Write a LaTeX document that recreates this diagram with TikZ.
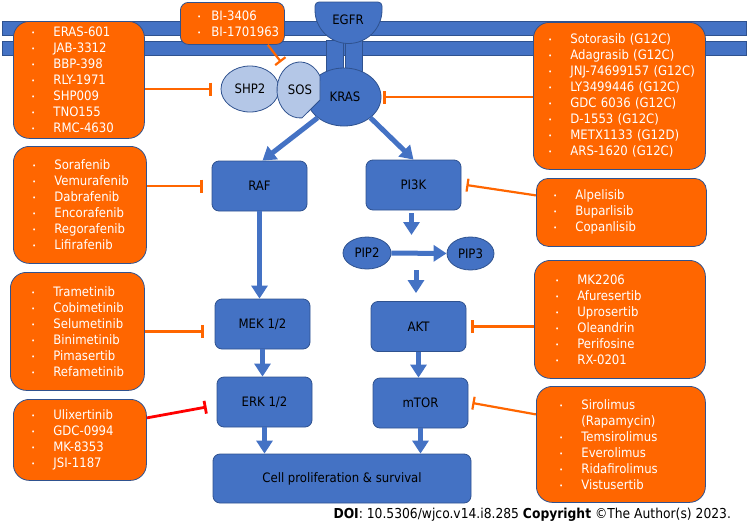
\documentclass[tikz,border=0pt]{standalone}
\usepackage{fontspec}
\setmainfont{DejaVu Sans Condensed}
\usetikzlibrary{arrows.meta}
\usetikzlibrary{positioning}
\usetikzlibrary{shapes.geometric}

\definecolor{pathblue}{HTML}{4472C4}
\definecolor{edgeblue}{HTML}{2F528F}
\definecolor{paleblue}{HTML}{B4C7E7}
\definecolor{drugorange}{HTML}{FF6600}
\definecolor{blockred}{HTML}{FF0000}

% no line breaks at hyphens inside the lists
\hyphenpenalty=10000
\exhyphenpenalty=10000

% bullet in front of a drug name
\newcommand{\itm}[1][23pt]{\makebox[#1][l]{\hspace{1pt}\raisebox{1pt}{\scriptsize\textbullet}}}

\tikzset{
  % cell membrane and receptor parts
  membrane/.style = {
    fill = pathblue,
    draw = edgeblue,
    line width = 0.4pt
  },
  % pathway protein
  path node/.style = {
    draw = edgeblue,
    fill = pathblue,
    rounded corners = 7pt,
    line width = 0.8pt,
    minimum width = 95pt,
    minimum height = 50pt,
    font = \fontsize{13pt}{16pt}\selectfont
  },
  % round molecule
  mol node/.style = {
    draw = edgeblue,
    ellipse,
    line width = 0.8pt,
    inner sep = 0pt,
    font = \fontsize{13pt}{16pt}\selectfont
  },
  % list of inhibitors
  drug box/.style = {
    draw = edgeblue,
    fill = drugorange,
    rounded corners = 16pt,
    line width = 0.8pt,
    anchor = north west,
    align = left,
    text = white,
    inner xsep = 17pt,
    inner ysep = 0pt,
    font = \fontsize{13pt}{16pt}\selectfont
  }
}
\tikzset{
  % activation
  act/.style = {
    draw = pathblue,
    line width = 5pt,
    -{Triangle[width=16pt, length=13pt]}
  },
  % inhibition
  inhib/.style = {
    draw = drugorange,
    line width = 2.2pt,
    -{Bar[width=13pt]}
  }
}

\begin{document}
\begin{tikzpicture}[x=1pt, y=-1pt]
  \useasboundingbox (0,0) rectangle (748,523);

  % membrane
  \filldraw[membrane] (2,21) rectangle (746,35);
  \filldraw[membrane] (2,41) rectangle (746,55);

  % receptor
  \filldraw[membrane] (326,40) rectangle (343,78);
  \filldraw[membrane] (345,40) rectangle (362,78);
  \filldraw[membrane, line width=0.8pt] (315,10) [rounded corners=4pt] -- (315,2)
    -- (382,2) [sharp corners] -- (382,10)
    arc[start angle=0, end angle=180, radius=33.5] -- cycle;
  \node (egfr) at (348,20) [font=\fontsize{13pt}{16pt}\selectfont] {EGFR};

  % drug lists
  \node[drug box, rounded corners=8pt, inner xsep=10pt, text width=84pt,
    minimum height=42pt] (bi) at (180,2)
    {\hspace*{6pt}\itm[15pt]BI-3406\\\hspace*{6pt}\itm[15pt]BI-1701963};

  \node[drug box, text width=97pt, minimum height=117pt] (eras) at (13,21)
    {\itm ERAS-601\\\itm JAB-3312\\\itm BBP-398\\\itm RLY-1971\\
     \itm SHP009\\\itm TNO155\\\itm RMC-4630};

  \node[drug box, inner xsep=14pt, text width=144pt, minimum height=147pt]
    (ras-drugs) at (533,22)
    {\itm Sotorasib~(G12C)\\\itm Adagrasib~(G12C)\\\itm JNJ-74699157~(G12C)\\
     \itm LY3499446~(G12C)\\\itm GDC~6036~(G12C)\\\itm D-1553~(G12C)\\
     \itm METX1133~(G12D)\\\itm ARS-1620~(G12C)};

  \node[drug box, inner xsep=18pt, text width=97pt, minimum height=117pt]
    (raf-drugs) at (13,146)
    {\itm Sorafenib\\\itm Vemurafenib\\\itm Dabrafenib\\\itm Encorafenib\\
     \itm Regorafenib\\\itm Lifirafenib};

  \node[drug box, rounded corners=12pt, inner xsep=16pt, text width=138pt,
    minimum height=68pt] (pi3k-drugs) at (536,178)
    {\itm Alpelisib\\\itm Buparlisib\\\itm Copanlisib};

  \node[drug box, inner xsep=20pt, text width=94pt, minimum height=118pt]
    (mek-drugs) at (10,272)
    {\itm Trametinib\\\itm Cobimetinib\\\itm Selumetinib\\\itm Binimetinib\\
     \itm Pimasertib\\\itm Refametinib};

  \node[drug box, text width=99pt, minimum height=81pt] (erk-drugs) at (13,399)
    {\itm Ulixertinib\\\itm GDC-0994\\\itm MK-8353\\\itm JSI-1187};

  \node[drug box, inner xsep=20pt, text width=131pt, minimum height=118pt]
    (akt-drugs) at (534,260)
    {\itm MK2206\\\itm Afuresertib\\\itm Uprosertib\\\itm Oleandrin\\
     \itm Perifosine\\\itm RX-0201};

  \node[drug box, inner xsep=22pt, text width=125pt, minimum height=116pt]
    (mtor-drugs) at (536,386)
    {\itm Sirolimus\\\hspace*{23pt}(Rapamycin)\\\itm Temsirolimus\\
     \itm Everolimus\\\itm Ridafirolimus\\\itm Vistusertib};

  % adaptor complex
  \node[mol node, fill=pathblue, minimum width=74pt, minimum height=58pt]
    (kras) at (344,97) {\hspace*{2pt}KRAS};
  \node[mol node, fill=paleblue, minimum width=58pt, minimum height=46pt]
    (shp2) at (250,89) {SHP2};
  \filldraw[fill=paleblue, draw=edgeblue, line width=0.8pt] (300,90)
    ++(85:23 and 28) arc[start angle=85, end angle=330.4,
    x radius=23, y radius=28] -- (320,100) -- cycle;
  \node (sos) at (300,90) [font=\fontsize{13pt}{16pt}\selectfont] {SOS};
  \coordinate (sos-top) at (281,62);

  % pathway
  \node[path node] (raf) at (259.5,186) {RAF};
  \node[path node] (mek) at (262.5,324) {MEK 1/2};
  \node[path node] (erk) at (264.5,402) {ERK 1/2};
  \node[path node] (pi3k) at (413.5,185) {PI3K};
  \node[mol node, fill=pathblue, minimum width=48pt, minimum height=32pt]
    (pip2) at (367,253) {PIP2};
  \node[mol node, fill=pathblue, minimum width=47pt, minimum height=33pt]
    (pip3) at (470.5,253.5) {PIP3};
  \coordinate (pip-step) at (414,253);
  \node[path node] (akt) at (418.5,326.5) {AKT};
  \node[path node] (mtor) at (420.5,403) {mTOR};
  \node[path node, minimum width=258pt, minimum height=49pt]
    (cell) at (342,478.5) {Cell proliferation \& survival};

  % activation arrows
  \draw[act] (kras.south west) -- ([xshift=3pt]raf.north);
  \draw[act] (kras.south east) -- (pi3k.north);
  \draw[act] (raf.south) -- (raf.south |- mek.north);
  \draw[act] (mek.south) -- (mek.south |- erk.north);
  \draw[act] (erk.south) -- (erk.south |- cell.north);
  \draw[act, shorten <=3pt, shorten >=18pt] ([xshift=-2pt]pi3k.south)
    -- ([xshift=-2pt]pi3k.south |- pip-step);
  \draw[act] (pip2) -- (pip3);
  \draw[act, shorten <=17pt, shorten >=8pt] ([xshift=2pt]pip-step)
    -- ([xshift=2pt]pip-step |- akt.north);
  \draw[act] (akt.south) -- (akt.south |- mtor.north);
  \draw[act] (mtor.south) -- (mtor.south |- cell.north);

  % inhibition
  \draw[inhib, shorten >=9pt] (eras.east |- shp2.west) -- (shp2.west);
  \draw[inhib] ([xshift=-17pt]bi.south east) -- (sos-top);
  \draw[inhib, shorten >=2pt] (ras-drugs.west |- kras.east) -- (kras.east);
  \draw[inhib, shorten >=9pt] (raf-drugs.east |- raf.west) -- (raf.west);
  \draw[inhib] ([yshift=17pt]pi3k-drugs.west) -- ([xshift=5pt]pi3k.east);
  \draw[inhib, shorten >=11pt] (mek-drugs.east) -- (mek-drugs.east -| mek.west);
  \draw[inhib, draw=blockred, line width=2.8pt] ([yshift=22pt]erk-drugs.east)
    -- ([xshift=-10pt, yshift=-5pt]erk.west);
  \draw[inhib] (akt-drugs.west |- akt.east) -- ([xshift=5pt]akt.east);
  \draw[inhib] ([yshift=30pt]mtor-drugs.west) -- ([xshift=4pt]mtor.east);

  % source line
  \node[anchor=base west, font=\fontsize{13.7pt}{16pt}\selectfont] (doi) at (330,518)
    {\textbf{DOI}: 10.5306/wjco.v14.i8.285 \textbf{Copyright} ©The Author(s) 2023.};
\end{tikzpicture}
\end{document}
